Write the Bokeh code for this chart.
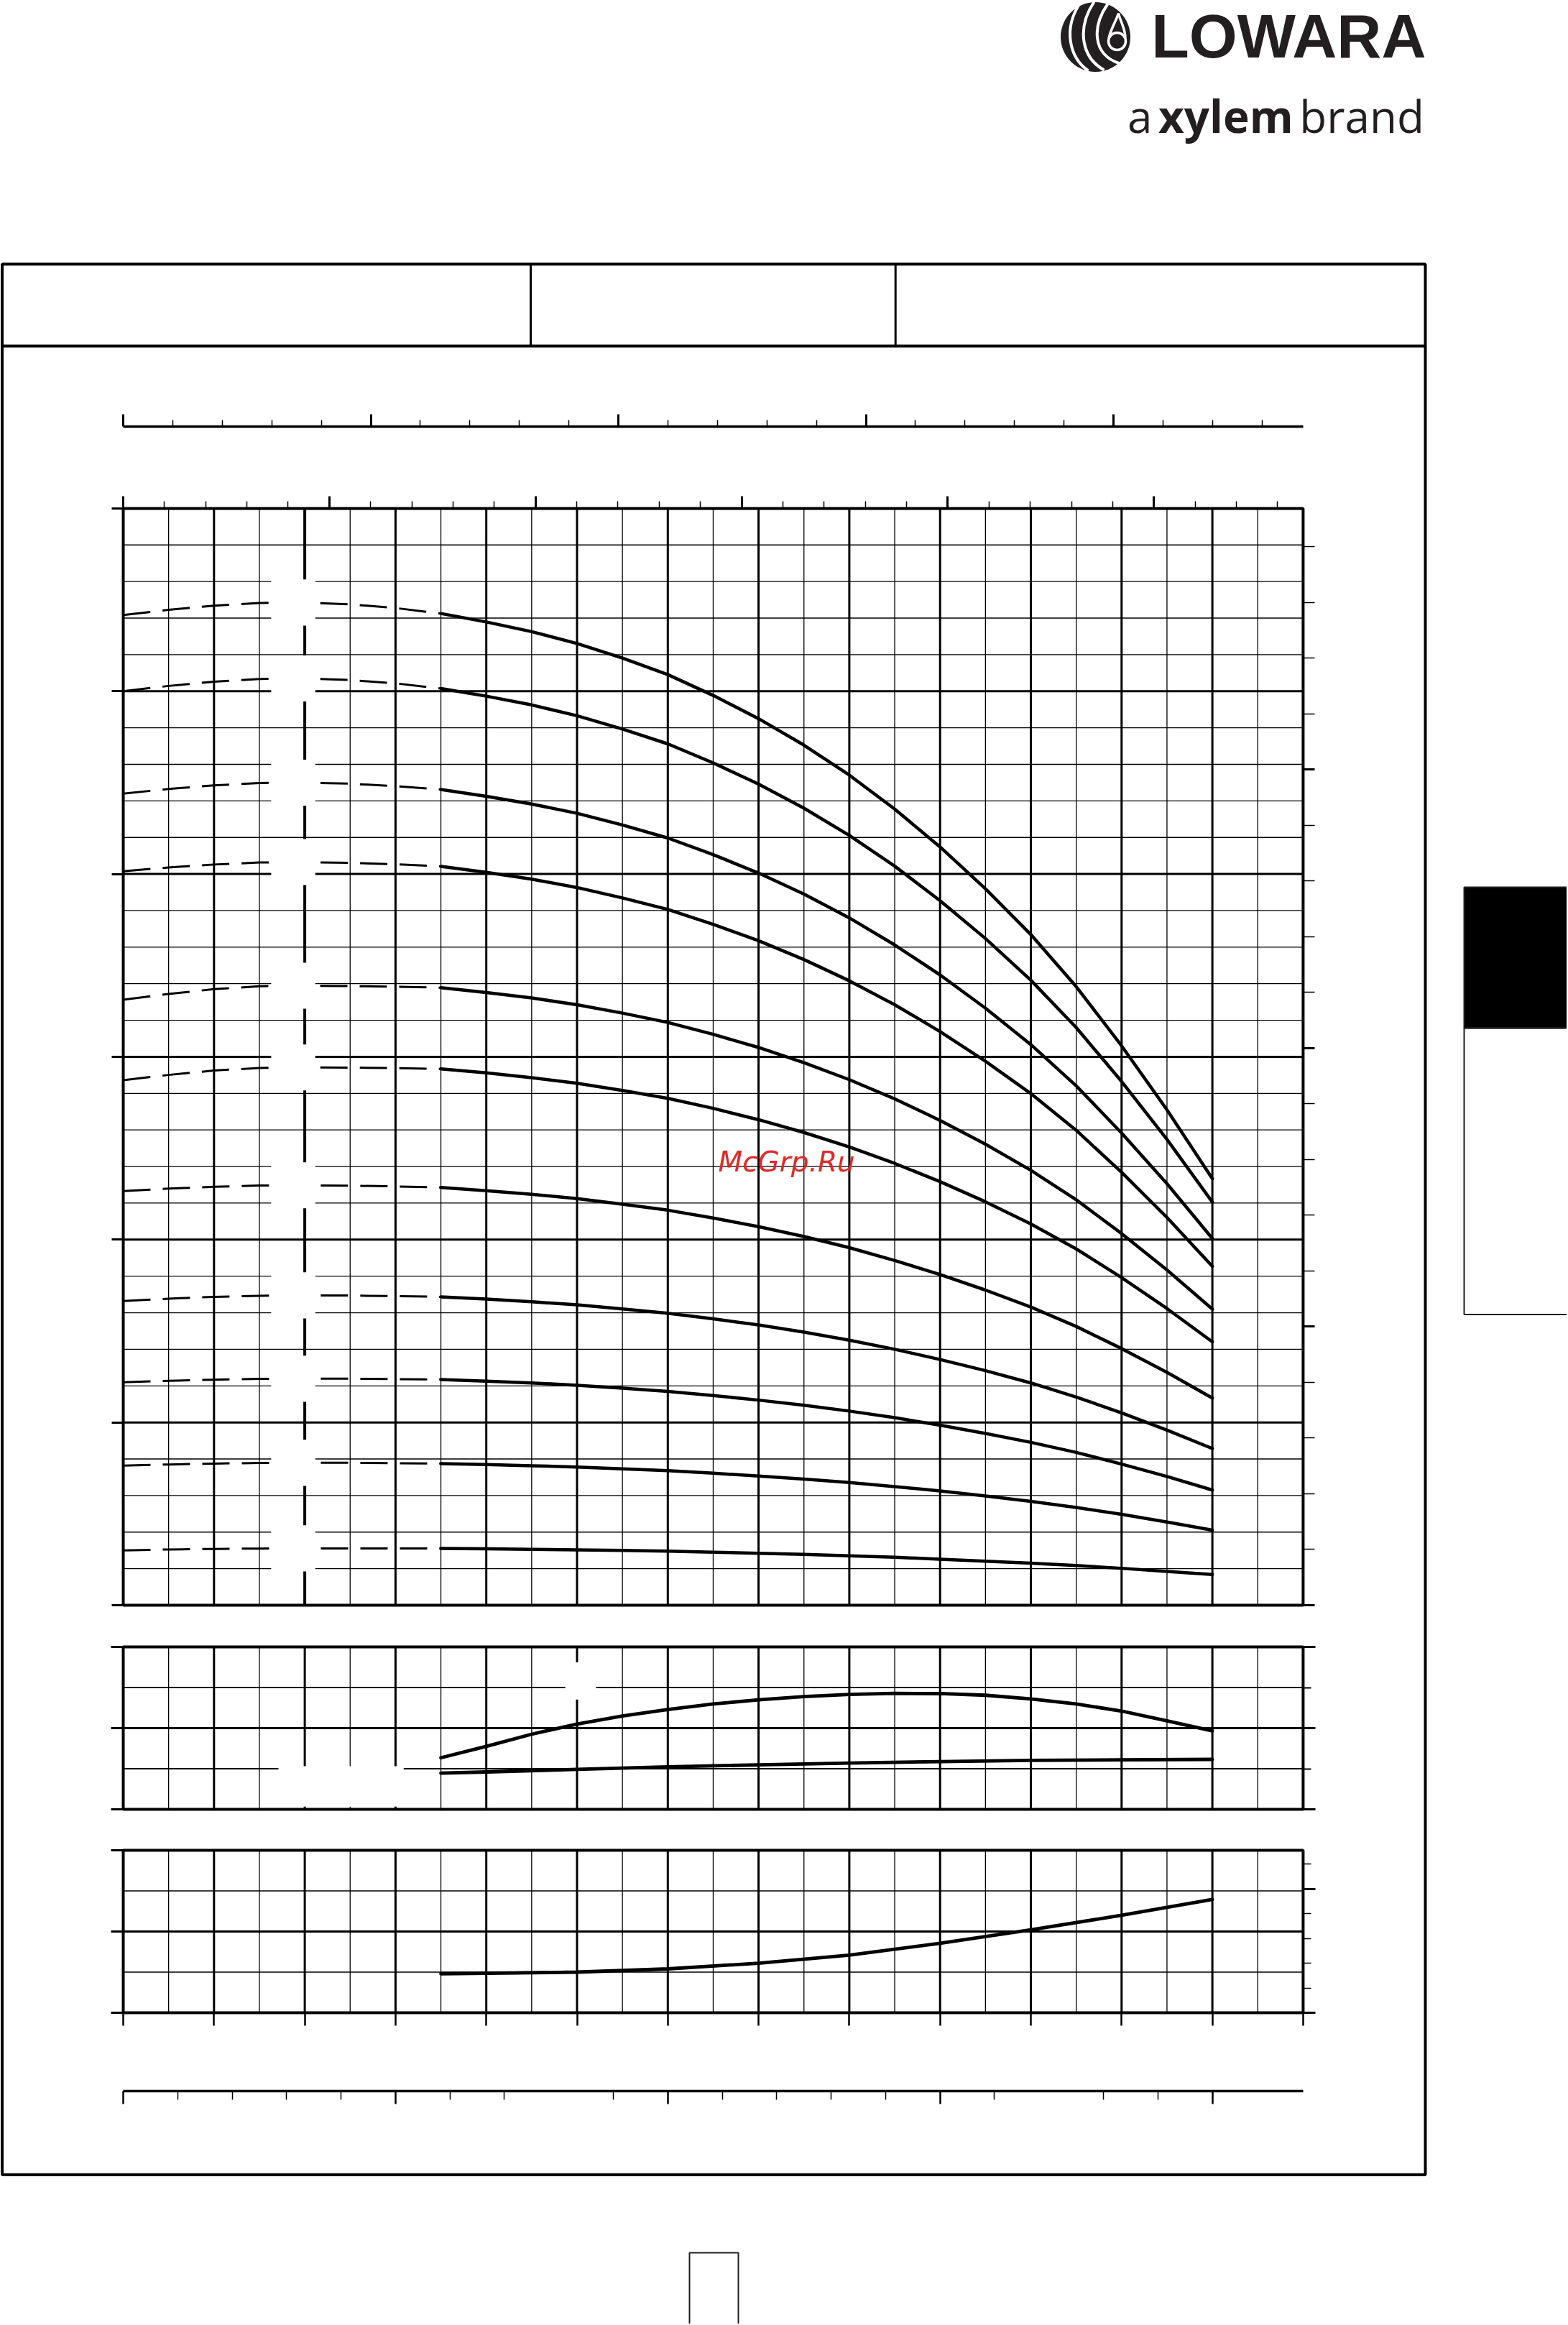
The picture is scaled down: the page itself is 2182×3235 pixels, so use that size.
import numpy as np
from bokeh.plotting import figure
from bokeh.models import Range1d, LinearAxis, FixedTicker, CustomJSTickFormatter
from bokeh.core.properties import value
from bokeh.embed import file_html
from bokeh.resources import INLINE

# ---------------------------------------------------------------- data
# flow rate Q [m3/h]
q_dashed = [0.0, 0.5, 1.0, 1.5, 2.0, 2.5, 3.0, 3.5]
q_solid = [3.5, 4.0, 4.5, 5.0, 5.5, 6.0, 6.5, 7.0, 7.5, 8.0, 8.5, 9.0,
           9.5, 10.0, 10.5, 11.0, 11.5, 12.0]

# head H [m], dashed (low-flow) part of each curve, top curve first
head_dashed = [
    [54.17, 54.45, 54.68, 54.83, 54.85, 54.75, 54.55, 54.25],
    [50.00, 50.29, 50.52, 50.67, 50.70, 50.61, 50.43, 50.15],
    [44.40, 44.65, 44.85, 44.98, 45.00, 44.94, 44.81, 44.62],
    [40.15, 40.36, 40.52, 40.63, 40.65, 40.61, 40.53, 40.42],
    [33.12, 33.44, 33.70, 33.86, 33.89, 33.87, 33.84, 33.78],
    [28.72, 29.01, 29.25, 29.39, 29.42, 29.41, 29.38, 29.34],
    [22.66, 22.79, 22.89, 22.96, 22.97, 22.95, 22.91, 22.85],
    [16.64, 16.77, 16.87, 16.93, 16.95, 16.94, 16.91, 16.87],
    [12.20, 12.28, 12.34, 12.38, 12.39, 12.39, 12.37, 12.35],
    [7.64, 7.70, 7.75, 7.78, 7.79, 7.79, 7.77, 7.75],
    [3.00, 3.05, 3.08, 3.10, 3.11, 3.11, 3.11, 3.11],
]
# head H [m], solid (operating range) part of each curve
head_solid = [
    [54.25, 53.79, 53.26, 52.61, 51.81, 50.91, 49.77, 48.50, 47.05, 45.41, 43.55, 41.48, 39.19, 36.69, 33.84, 30.60, 27.10, 23.33],
    [50.15, 49.73, 49.25, 48.66, 47.93, 47.12, 46.08, 44.92, 43.60, 42.11, 40.43, 38.54, 36.47, 34.19, 31.60, 28.65, 25.48, 22.05],
    [44.62, 44.25, 43.83, 43.32, 42.68, 41.97, 41.06, 40.05, 38.90, 37.60, 36.12, 34.48, 32.66, 30.67, 28.41, 25.83, 23.06, 20.06],
    [40.42, 40.09, 39.72, 39.26, 38.69, 38.06, 37.25, 36.35, 35.32, 34.16, 32.85, 31.38, 29.76, 27.99, 25.98, 23.68, 21.21, 18.54],
    [33.78, 33.52, 33.22, 32.85, 32.39, 31.88, 31.23, 30.51, 29.68, 28.75, 27.70, 26.52, 25.22, 23.79, 22.18, 20.33, 18.34, 16.20],
    [29.34, 29.12, 28.86, 28.55, 28.16, 27.73, 27.18, 26.56, 25.86, 25.07, 24.17, 23.17, 22.07, 20.86, 19.49, 17.92, 16.23, 14.41],
    [22.85, 22.68, 22.48, 22.24, 21.94, 21.61, 21.18, 20.71, 20.17, 19.56, 18.86, 18.09, 17.24, 16.31, 15.25, 14.04, 12.74, 11.33],
    [16.87, 16.75, 16.60, 16.43, 16.21, 15.97, 15.67, 15.33, 14.94, 14.50, 14.00, 13.44, 12.83, 12.16, 11.39, 10.52, 9.58, 8.57],
    [12.35, 12.26, 12.16, 12.03, 11.87, 11.70, 11.47, 11.22, 10.94, 10.62, 10.26, 9.85, 9.40, 8.91, 8.36, 7.72, 7.04, 6.30],
    [7.75, 7.70, 7.63, 7.56, 7.46, 7.36, 7.22, 7.07, 6.90, 6.71, 6.49, 6.25, 5.98, 5.68, 5.35, 4.97, 4.55, 4.11],
    [3.11, 3.09, 3.06, 3.03, 3.00, 2.96, 2.90, 2.84, 2.78, 2.70, 2.62, 2.52, 2.41, 2.30, 2.17, 2.02, 1.85, 1.68],
]

# efficiency [%]
q_eta = [3.5, 4.0, 4.5, 5.0, 5.5, 6.0, 6.5, 7.0, 7.5, 8.0, 8.5, 9.0,
         9.5, 10.0, 10.5, 11.0, 11.5, 12.0]
eta = [25.4, 31.0, 37.0, 42.0, 46.0, 49.2, 51.9, 53.9, 55.5, 56.6, 57.1, 57.0,
       56.2, 54.4, 51.9, 48.4, 43.6, 38.6]

# power per stage [kW]
q_p2 = [3.5, 4.0, 5.0, 6.0, 7.0, 8.0, 9.0, 10.0, 11.0, 12.0]
p2 = [0.178, 0.184, 0.197, 0.209, 0.219, 0.228, 0.235, 0.241, 0.244, 0.246]

# NPSH [m]
q_npsh = [3.5, 4.0, 5.0, 6.0, 7.0, 8.0, 9.0, 10.0, 11.0, 12.0]
npsh = [0.96, 0.97, 1.00, 1.08, 1.22, 1.42, 1.71, 2.04, 2.40, 2.79]

# axis scales
q_max = 13.0           # m3/h
h_max = 60.0           # m
eta_max = 80.0         # %
p2_max = 0.8           # kW
npsh_max = 4.0         # m
M3H_PER_IMPGPM = 0.272765
M3H_PER_USGPM = 0.2271247
M3H_PER_LMIN = 0.06
M_PER_FT = 0.3048

# ---------------------------------------------------------------- layout (page pixels)
W, H = 2180, 3233
X0, QK = 171.0, 126.3          # x of Q = 0, pixels per m3/h
MAIN_Y0, MAIN_K = 2233.0, 25.435
ETA_Y0, ETA_K = 2517.0, 2.825
NP_Y0, NP_K = 2800.0, 56.5

p = figure(width=W, height=H, x_range=Range1d(0, W), y_range=Range1d(H, 0),
           output_backend="svg", toolbar_location=None, x_axis_type=None, y_axis_type=None,
           min_border=0)
p.title.visible = False
p.outline_line_color = None
p.background_fill_color = "white"
p.border_fill_color = "white"


def xr(k):
    return Range1d((0 - X0) / k, (W - X0) / k)


def yr(y0, k):
    return Range1d((y0 - H) / k, (y0 - 0) / k)


p.extra_x_ranges = {
    "q": xr(QK),
    "imp": xr(QK * M3H_PER_IMPGPM),
    "us": xr(QK * M3H_PER_USGPM),
    "lmin": xr(QK * M3H_PER_LMIN),
}
p.extra_y_ranges = {
    "h": yr(MAIN_Y0, MAIN_K),
    "hft": yr(MAIN_Y0, MAIN_K * M_PER_FT),
    "eta": yr(ETA_Y0, ETA_K),
    "kw": yr(ETA_Y0, ETA_K * eta_max / p2_max),
    "npsh": yr(NP_Y0, NP_K),
    "nft": yr(NP_Y0, NP_K * M_PER_FT),
}

INK = "black"


def add_axis(side, loc, ticks, minor=(), bounds=None, out=17, mout=10, w=3.0, mw=1.3,
             line_w=0.0, **names):
    ax = LinearAxis(fixed_location=loc,
                    ticker=FixedTicker(ticks=list(ticks), minor_ticks=list(minor)),
                    formatter=CustomJSTickFormatter(code="return ''"),
                    major_tick_out=out, major_tick_in=0, minor_tick_out=mout, minor_tick_in=0,
                    major_tick_line_width=w, minor_tick_line_width=mw,
                    major_tick_line_color=INK, minor_tick_line_color=INK,
                    axis_line_width=line_w if line_w else 1,
                    axis_line_color=INK if line_w else None,
                    **names)
    if bounds is not None:
        ax.bounds = bounds
    p.add_layout(ax, side)
    return ax


def panel_grid(yname, ymax, minor_step, major_step, hmin_w=1.3, special_q=None):
    qs_minor = [v + 0.5 for v in range(int(q_max))]
    qs_major = [float(v) for v in range(1, int(q_max))]
    p.segment(qs_minor, 0, qs_minor, ymax, x_range_name="q", y_range_name=yname,
              line_width=1.3, line_color=INK)
    qm = [v for v in qs_major if v != special_q]
    p.segment(qm, 0, qm, ymax, x_range_name="q", y_range_name=yname,
              line_width=3.0, line_color=INK)
    if special_q is not None:
        p.segment([special_q], 0, [special_q], ymax, x_range_name="q", y_range_name=yname,
                  line_width=4.0, line_color=INK)
    n = int(round(ymax / minor_step))
    hs = [i * minor_step for i in range(1, n)]
    hmin = [v for v in hs if abs(v / major_step - round(v / major_step)) > 1e-6]
    hmaj = [v for v in hs if abs(v / major_step - round(v / major_step)) <= 1e-6]
    p.segment(0, hmin, q_max, hmin, x_range_name="q", y_range_name=yname,
              line_width=hmin_w, line_color=INK)
    p.segment(0, hmaj, q_max, hmaj, x_range_name="q", y_range_name=yname,
              line_width=3.0, line_color=INK)


def panel_border(yname, ymax):
    p.quad(left=[0], right=[q_max], bottom=[0], top=[ymax], fill_color=None,
           line_color=INK, line_width=4, x_range_name="q", y_range_name=yname)


# ---------------------------------------------------------------- main H-Q chart
panel_grid("h", h_max, 2, 10, special_q=2.0)
for hd, hs in zip(head_dashed, head_solid):
    p.line(q_dashed, hd, x_range_name="q", y_range_name="h", line_width=3,
           line_dash="38 17", line_color=INK)
    p.line(q_solid, hs, x_range_name="q", y_range_name="h", line_width=4.5,
           line_cap="round", line_join="round", line_color=INK)
# blank label boxes where the curves cross Q = 2
lab_c = [hd[4] for hd in head_dashed]
p.quad(left=1.63, right=2.116, bottom=[c - 1.26 for c in lab_c], top=[c + 1.26 for c in lab_c],
       fill_color="white", line_color=None, x_range_name="q", y_range_name="h")
panel_border("h", h_max)

add_axis("left", X0, range(0, 61, 10), bounds=(0, h_max), out=16, w=3, y_range_name="h")
add_axis("right", X0 + q_max * QK, [0, 50, 100, 150],
         [v for v in range(10, 200, 10) if v % 50], bounds=(0, h_max / M_PER_FT),
         out=16, mout=16, w=3, mw=1.3, y_range_name="hft")
add_axis("above", MAIN_Y0 - h_max * MAIN_K, range(0, 51, 10),
         [v for v in range(2, 57, 2) if v % 10], bounds=(0, q_max / M3H_PER_USGPM),
         out=17, mout=10, w=3, mw=1.5, x_range_name="us")
add_axis("above", 593, range(0, 41, 10), [v for v in range(2, 47, 2) if v % 10],
         bounds=(0, q_max / M3H_PER_IMPGPM), out=17, mout=9, w=3, mw=1.5, line_w=3.5,
         x_range_name="imp")

# ---------------------------------------------------------------- efficiency / power panel
panel_grid("eta", eta_max, 20, 40, hmin_w=1.8)
p.line(q_eta, eta, x_range_name="q", y_range_name="eta", line_width=4.8,
       line_cap="round", line_join="round", line_color=INK)
p.line(q_p2, p2, x_range_name="q", y_range_name="kw", line_width=4.8,
       line_cap="round", line_join="round", line_color=INK)
p.quad(left=[1.71, 4.87], right=[3.09, 5.21], bottom=[1.3, 54.1], top=[21.2, 72.4],
       fill_color="white", line_color=None, x_range_name="q", y_range_name="eta")
panel_border("eta", eta_max)
add_axis("left", X0, [0, 40, 80], bounds=(0, eta_max), out=17, w=3, y_range_name="eta")
add_axis("right", X0 + q_max * QK, [0, 40, 80], [20, 60], bounds=(0, eta_max),
         out=17, mout=11, w=3, mw=1.8, y_range_name="eta")

# ---------------------------------------------------------------- NPSH panel
panel_grid("npsh", npsh_max, 1, 2)
p.line(q_npsh, npsh, x_range_name="q", y_range_name="npsh", line_width=4.8,
       line_cap="round", line_join="round", line_color=INK)
panel_border("npsh", npsh_max)
add_axis("left", X0, [0, 2, 4], bounds=(0, npsh_max), out=17, w=3, y_range_name="npsh")
add_axis("right", X0 + q_max * QK, [0, 10], [2, 4, 6, 8, 12], bounds=(0, npsh_max / M_PER_FT),
         out=17, mout=11, w=3, mw=1.3, y_range_name="nft")
add_axis("below", NP_Y0, range(0, 14), bounds=(0, q_max), out=18, w=2.5, x_range_name="q")

# ---------------------------------------------------------------- l/min axis
add_axis("below", 2909, range(0, 201, 50),
         [10, 20, 30, 40, 60, 70, 90, 110, 120, 130, 140, 160, 180, 190],
         bounds=(0, q_max / M3H_PER_LMIN), out=18, mout=12, w=2.5, mw=1.5, line_w=3.5,
         x_range_name="lmin")

# ---------------------------------------------------------------- page frame
p.quad(left=[2.5], right=[1983], top=[367], bottom=[3025.5], fill_color=None,
       line_color=INK, line_width=4)
p.segment(x0=[2.5, 738, 1245.7], y0=[481, 367, 367], x1=[1983, 738, 1245.7], y1=[481, 481, 481],
          line_color=INK, line_width=[4, 3, 3])
# side tab
p.quad(left=[2037], right=[2200], top=[1234], bottom=[1430], fill_color="black",
       line_color="#231f20", line_width=2)
p.quad(left=[2037], right=[2200], top=[1430], bottom=[1828.6], fill_color=None,
       line_color="#231f20", line_width=2)
# page number box
p.quad(left=[959], right=[1027], top=[3134], bottom=[3260], fill_color=None,
       line_color="#231f20", line_width=2)

# ---------------------------------------------------------------- logo
p.circle(x=[1524], y=[51], radius=48.5, fill_color="#231f20", line_color=None)
p.bezier(x0=[1503, 1522, 1541], y0=[3, 2, 5], x1=[1514, 1536, 1558], y1=[98, 97, 88],
         cx0=[1478, 1497, 1520], cy0=[40, 40, 35], cx1=[1488, 1505, 1518], cy1=[80, 80, 75],
         line_color="white", line_width=4)
p.circle(x=[1554], y=[57], radius=12, fill_color="#231f20", line_color="white", line_width=3.5)
p.bezier(x0=[1542.5, 1565.5], y0=[53, 53], x1=[1556, 1556], y1=[18, 18],
         cx0=[1545, 1566], cy0=[40, 40], cx1=[1553, 1558], cy1=[28, 28],
         line_color="white", line_width=3.5)
p.text(x=[1984], y=[49], text=["LOWARA"], text_align="right", text_baseline="alphabetic",
       text_font=value("Liberation Sans"), text_font_style="bold", text_font_size="86px",
       text_color="#231f20")
p.text(x=[1568.5, 1611.5, 1807.8], y=[160, 160, 160], text=["a", "xylem", "brand"],
       text_align="left", text_baseline="alphabetic", text_font=value("Open Sans"),
       text_font_style=["normal", "bold", "normal"], text_font_size="62px",
       text_color="#231f20")

# watermark
p.text(x=[999], y=[1616], text=["McGrp.Ru"], text_align="left", text_baseline="alphabetic",
       text_font=value("DejaVu Sans"), text_font_style="italic", text_font_size="39px",
       text_color="#dc2a2a")

open("out.html", "w").write(file_html(p, INLINE))
